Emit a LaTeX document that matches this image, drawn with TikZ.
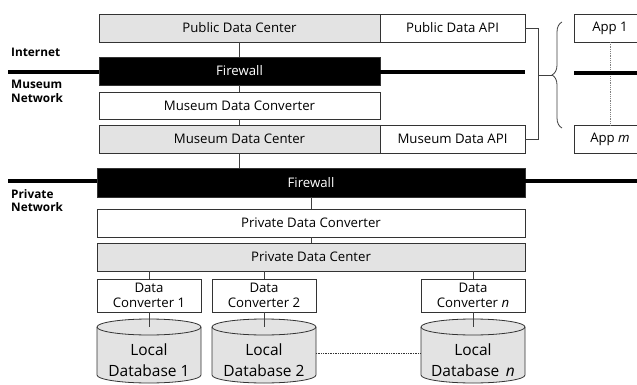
\documentclass[tikz,border=0pt]{standalone}
\usepackage{fontspec}
\setmainfont{Open Sans}
\usetikzlibrary{calc,decorations.pathreplacing}
\newcommand\dbcyl[1]{%
  \draw[dbbody] (#1,-327) -- (#1,-375) arc[start angle=180,end angle=360,x radius=52,y radius=8]
     -- ({#1+104},-327) arc[start angle=0,end angle=180,x radius=52,y radius=8] -- cycle;
  \draw[dbline] (#1,-327) arc[start angle=180,end angle=360,x radius=52,y radius=8];}
\begin{document}
\begin{tikzpicture}[x=1pt,y=1pt,
  box/.style={draw=black!80, line width=0.8pt, minimum height=28pt, inner sep=0pt, outer sep=0pt,
     anchor=north west, font=\fontsize{13.2}{14.5}\selectfont, align=center},
  gbox/.style={box, fill=black!11},
  fwbox/.style={box, fill=black, text=white},
  conn/.style={draw=black!75, line width=0.8pt},
  net/.style={line width=4pt},
  dbbody/.style={draw=black!80, line width=0.8pt, fill=black!11},
  dbline/.style={draw=black!80, line width=0.8pt},
  dbtxt/.style={font=\fontsize{15.5}{21}\selectfont, align=center, inner sep=0pt},
  lab/.style={font=\fontsize{11.8}{13.5}\selectfont\bfseries, align=left, anchor=north west, inner sep=0pt}]
\clip (0,0) rectangle (637,-385);
\fill[white] (0,0) rectangle (637,-385);

% labels
\node[lab] (inet) at (11,-48) {Internet};
\node[lab] (mnet) at (11,-80) {Museum\\Network};
\node[lab] (pnet) at (11,-189) {Private\\Network};

% boxes
\node[gbox, minimum width=281pt] (pdc) at (99,-14) {Public Data Center};
\node[box, minimum width=145pt] (pda) at (380,-14) {Public Data API};
\node[fwbox, minimum width=281pt] (fw1) at (99,-57) {Firewall};
\node[box, minimum width=281pt, minimum height=27pt] (mconv) at (99,-92) {Museum Data Converter};
\node[gbox, minimum width=281pt] (mdc) at (99,-125) {Museum Data Center};
\node[box, minimum width=145pt] (mda) at (380,-125) {Museum Data API};
\node[fwbox, minimum width=428pt, minimum height=29pt] (fw2) at (97,-168) {Firewall};
\node[box, minimum width=428pt] (pconv) at (97,-209) {Private Data Converter};
\node[gbox, minimum width=428pt] (pcen) at (97,-243) {Private Data Center};
\node[box, minimum width=104pt, minimum height=33pt] (dc1) at (97,-279) {Data\\Converter 1};
\node[box, minimum width=104pt, minimum height=33pt] (dc2) at (212,-279) {Data\\Converter 2};
\node[box, minimum width=104pt, minimum height=33pt] (dcn) at (421,-279) {Data\\Converter \textit{n}};
\node[box, minimum width=72pt] (app1) at (574,-14) {App 1};
\node[box, minimum width=72pt] (appm) at (574,-125) {App \textit{m}};

% vertical connectors
\draw[conn] (pdc) -- (fw1);
\draw[conn] (fw1) -- (mconv);
\draw[conn] (mconv) -- (mdc);
\draw[conn] (mdc.south) -- (mdc.south |- fw2.north);
\draw[conn] (fw2) -- (pconv);
\draw[conn] (pconv) -- (pcen);
\draw[conn] (dc1.north) -- (dc1.north |- pcen.south);
\draw[conn] (dc2.north) -- (dc2.north |- pcen.south);
\draw[conn] (dcn.north) -- (dcn.north |- pcen.south);
\draw[black!50, line width=0.8pt, densely dotted] (app1) -- (appm);

% network lines
\coordinate (n1a) at (8,-72);
\coordinate (n1b) at (637,-73);
\coordinate (n2a) at (8,-181);
\coordinate (n2b) at (637,-181);
\draw[net] (n1a) -- (n1a -| fw1.west);
\draw[net] (fw1.east |- n1a) -- (pda.east |- n1a);
\draw[net] (app1.west |- n1b) -- (n1b);
\draw[net] (n2a) -- (n2a -| fw2.west);
\draw[net] (fw2.east |- n2b) -- (n2b);

% bracket and brace
\coordinate (bm) at (538,-75);
\coordinate (bt) at (552,-75);
\draw[conn] (pda.east) -- (pda.east -| bm) -- (mda.east -| bm) -- (mda.east);
\draw[conn] (bm) -- (bt);
\draw[conn, decorate, decoration={brace, amplitude=10pt}] (562,-128) -- (562,-22);

% databases
\dbcyl{97}
\dbcyl{212}
\dbcyl{421}
\coordinate (db1top) at (149,-327);
\coordinate (db2top) at (264,-327);
\coordinate (dbntop) at (473,-327);
\node[dbtxt] (db1) at (149,-360) {Local\\Database 1};
\node[dbtxt] (db2) at (264,-360) {Local\\Database 2};
\node[dbtxt] (dbn) at (473,-360) {Local\\Database \,\textit{n}};
\draw[conn] (dc1.south) -- (db1top);
\draw[conn] (dc2.south) -- (db2top);
\draw[conn] (dcn.south) -- (dbntop);
\coordinate (db2r) at (316,-353);
\coordinate (dbnl) at (421,-353);
\draw[black!80, line width=0.7pt, densely dotted] (db2r) -- (dbnl);
\end{tikzpicture}
\end{document}
